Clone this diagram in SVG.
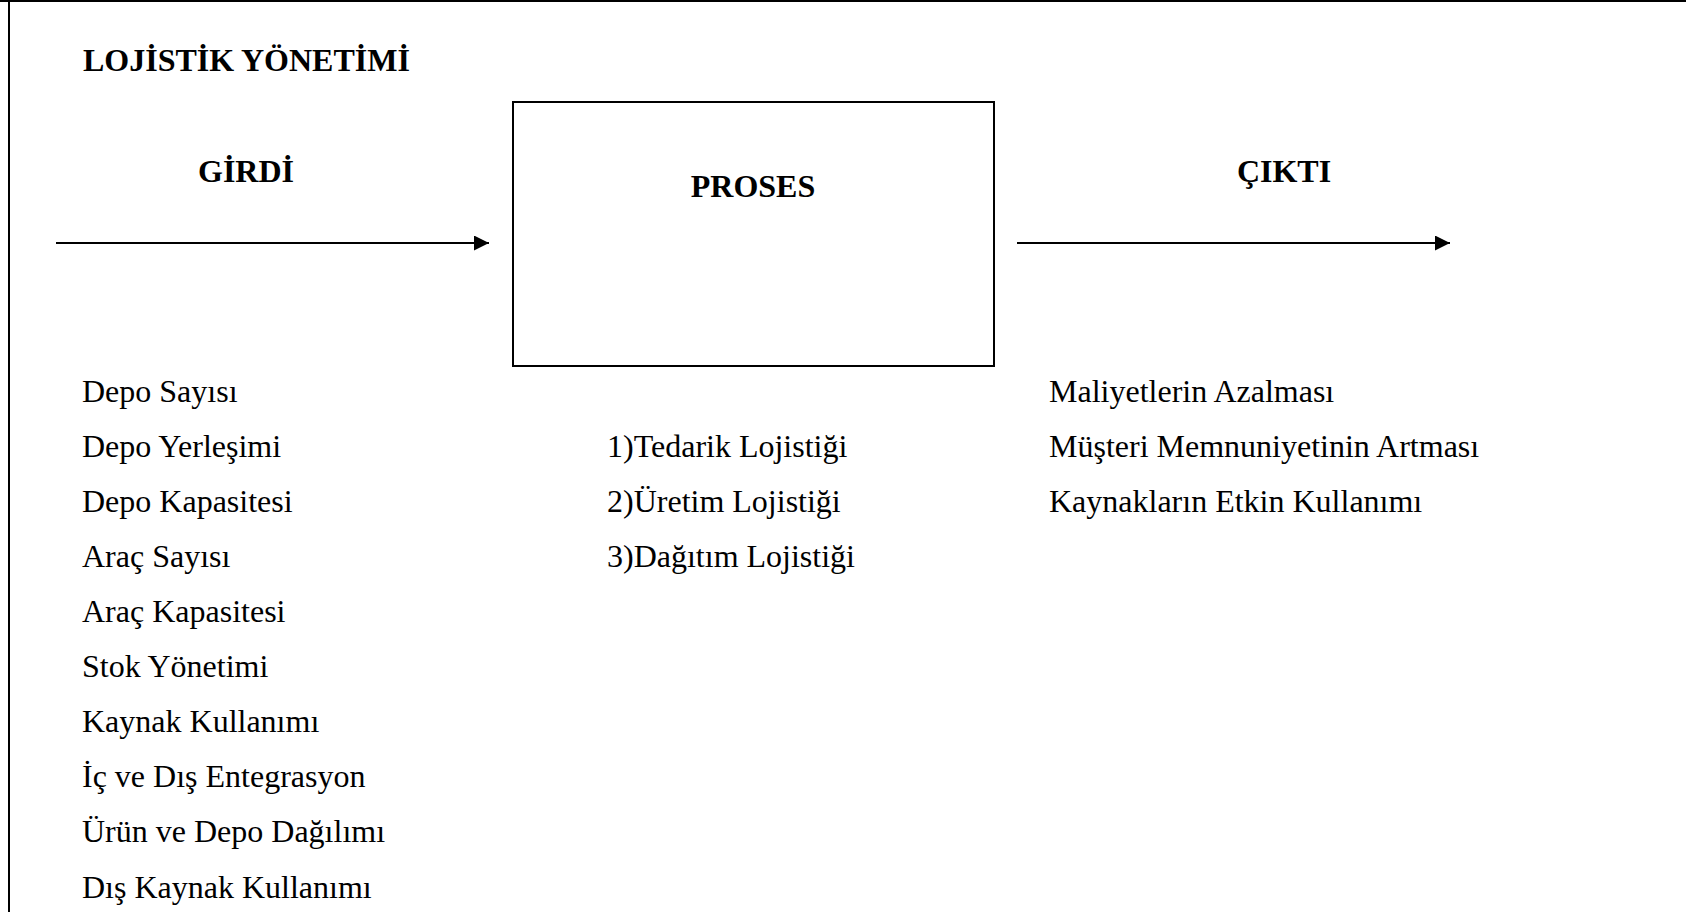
<svg xmlns="http://www.w3.org/2000/svg" width="1686" height="912" viewBox="0 0 1686 912">
  <style>
    .head { font-family: "Liberation Serif", "Times New Roman", serif; font-size: 32px; font-weight: bold; fill: #000; }
    .item { font-family: "Liberation Serif", "Times New Roman", serif; font-size: 32px; fill: #000; }
    .frame { stroke: #000; stroke-width: 2; fill: none; }
    .conn { stroke: #000; stroke-width: 2; fill: none; }
  </style>
  <defs>
    <marker id="arrow" viewBox="0 0 10 10" refX="10" refY="5" markerWidth="15" markerHeight="15" markerUnits="userSpaceOnUse" orient="auto">
      <path d="M0,0 L10,5 L0,10 Z" fill="#000"/>
    </marker>
  </defs>
  <rect width="1686" height="912" fill="#fff"/>

  <!-- outer frame: top and left edges -->
  <g id="frame">
    <line class="frame" x1="0" y1="1" x2="1686" y2="1"/>
    <line class="frame" x1="9" y1="0" x2="9" y2="912"/>
  </g>

  <text id="title" class="head" x="83" y="71">LOJİSTİK YÖNETİMİ</text>

  <!-- input column -->
  <g id="girdi">
    <text class="head" x="246" y="182" text-anchor="middle">GİRDİ</text>
    <text class="item" x="82" y="402">Depo Sayısı</text>
    <text class="item" x="82" y="457">Depo Yerleşimi</text>
    <text class="item" x="82" y="512">Depo Kapasitesi</text>
    <text class="item" x="82" y="567">Araç Sayısı</text>
    <text class="item" x="82" y="622">Araç Kapasitesi</text>
    <text class="item" x="82" y="677">Stok Yönetimi</text>
    <text class="item" x="82" y="732">Kaynak Kullanımı</text>
    <text class="item" x="82" y="787">İç ve Dış Entegrasyon</text>
    <text class="item" x="82" y="842">Ürün ve Depo Dağılımı</text>
    <text class="item" x="82" y="898">Dış Kaynak Kullanımı</text>
  </g>

  <!-- process box -->
  <g id="proses">
    <rect class="frame" x="513" y="102" width="481" height="264"/>
    <text class="head" x="753" y="197" text-anchor="middle">PROSES</text>
    <text class="item" x="607" y="457">1)Tedarik Lojistiği</text>
    <text class="item" x="607" y="512">2)Üretim Lojistiği</text>
    <text class="item" x="607" y="567">3)Dağıtım Lojistiği</text>
  </g>

  <!-- output column -->
  <g id="cikti">
    <text class="head" x="1284" y="182" text-anchor="middle">ÇIKTI</text>
    <text class="item" x="1049" y="402">Maliyetlerin Azalması</text>
    <text class="item" x="1049" y="457">Müşteri Memnuniyetinin Artması</text>
    <text class="item" x="1049" y="512">Kaynakların Etkin Kullanımı</text>
  </g>

  <!-- connectors -->
  <g id="connectors">
    <line class="conn" x1="56" y1="243" x2="489" y2="243" marker-end="url(#arrow)"/>
    <line class="conn" x1="1017" y1="243" x2="1450" y2="243" marker-end="url(#arrow)"/>
  </g>
</svg>
